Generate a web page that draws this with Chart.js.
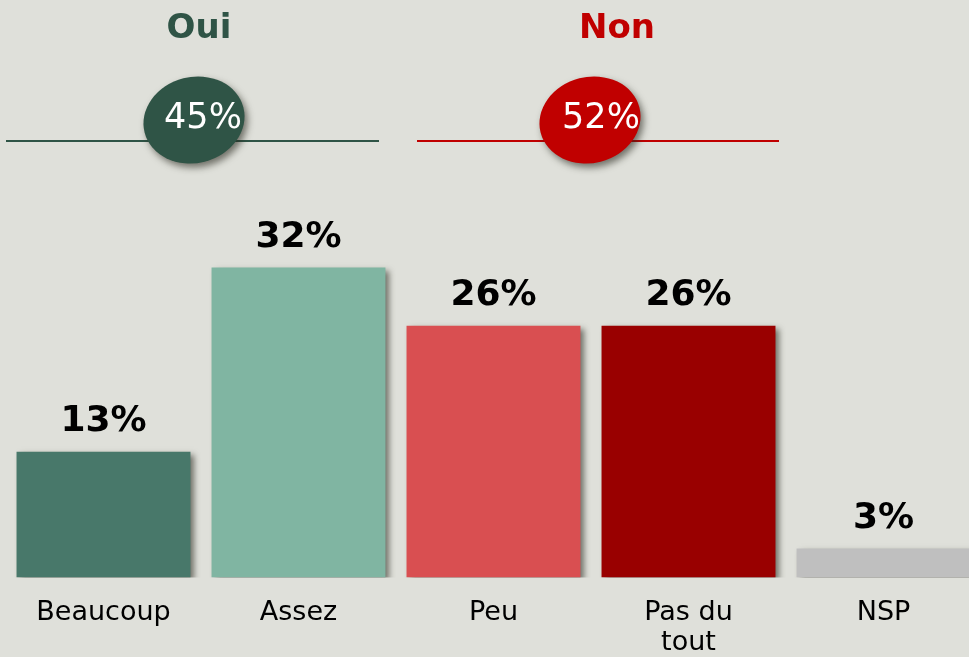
<!DOCTYPE html>
<html>
<head>
<meta charset="utf-8">
<script src="https://cdn.jsdelivr.net/npm/chart.js@4.4.1/dist/chart.umd.min.js"></script>
<style>
    html, body { margin: 0; padding: 0; background: #dfe0da; overflow: hidden; }
    .wrap { width: 981px; height: 657px; position: relative; }
</style>
</head>
<body>
<div class="wrap"><canvas class="chart_canvas"></canvas></div>
<script>
const categories = ["Beaucoup", "Assez", "Peu", ["Pas du", "tout"], "NSP"];
const values = [13, 32, 26, 26, 3];
const barColors = ["#48786a", "#80b5a2", "#d94f51", "#990000", "#bfbfbf"];

const groupLabels = ["Oui", "Non"];
const groupValues = [45, 52];
const groupColors = ["#2f5446", "#c00000"];

const chartCanvas = document.querySelector(".chart_canvas");

// ombre portée sous les barres
const barShadow = {
    id: "barShadow",
    beforeDatasetDraw(chart) {
        const ctx = chart.ctx;
        ctx.save();
        ctx.shadowColor = "rgba(50,50,40,0.65)";
        ctx.shadowBlur = 6;
        ctx.shadowOffsetX = 4;
        ctx.shadowOffsetY = 3;
    },
    afterDatasetDraw(chart) {
        chart.ctx.restore();
    }
};

// valeurs au-dessus des barres
const barValues = {
    id: "barValues",
    afterDatasetsDraw(chart) {
        const ctx = chart.ctx;
        const meta = chart.getDatasetMeta(0);
        ctx.save();
        ctx.font = "bold 36px 'DejaVu Sans'";
        ctx.fillStyle = "#000";
        ctx.textAlign = "center";
        ctx.textBaseline = "alphabetic";
        meta.data.forEach((bar, i) => {
            ctx.fillText(values[i] + "%", bar.x, bar.y - 21);
        });
        ctx.restore();
    }
};

// en-têtes Oui / Non avec ligne et pastille
const groupHeader = {
    id: "groupHeader",
    afterDraw(chart) {
        const ctx = chart.ctx;
        const x = chart.scales.x;
        const step = x.getPixelForValue(1) - x.getPixelForValue(0);
        const spans = [[0, 1], [2, 3]];
        const titleShift = [-2, 26];
        const ovalShift = [-7, -1];
        const textShift = [2, 10];
        const lineInset = [[0, -17], [21, -7]];
        spans.forEach((s, g) => {
            const a = x.getPixelForValue(s[0]);
            const b = x.getPixelForValue(s[1]);
            const mid = (a + b) / 2;
            const left = a - step / 2;
            const right = b + step / 2;

            ctx.save();
            ctx.fillStyle = groupColors[g];
            ctx.font = "bold 34px 'DejaVu Sans'";
            ctx.textAlign = "center";
            ctx.textBaseline = "middle";
            ctx.fillText(groupLabels[g], mid + titleShift[g], 29);

            ctx.strokeStyle = groupColors[g];
            ctx.lineWidth = 2;
            ctx.beginPath();
            ctx.moveTo(left + lineInset[g][0], 141);
            ctx.lineTo(right + lineInset[g][1], 141);
            ctx.stroke();

            ctx.shadowColor = "rgba(40,40,30,0.6)";
            ctx.shadowBlur = 7;
            ctx.shadowOffsetX = 3;
            ctx.shadowOffsetY = 4;
            ctx.beginPath();
            ctx.ellipse(mid + ovalShift[g], 120, 51, 43, -0.25, 0, Math.PI * 2);
            ctx.fill();
            ctx.shadowColor = "transparent";

            ctx.fillStyle = "#ffffff";
            ctx.font = "35px 'DejaVu Sans'";
            ctx.fillText(groupValues[g] + "%", mid + textShift[g], 119);
            ctx.restore();
        });
    }
};

const chart = new Chart(chartCanvas, {
    type: "bar",
    data: {
        labels: categories,
        datasets: [{
            data: values,
            backgroundColor: barColors,
            borderWidth: 0,
            categoryPercentage: 1,
            barPercentage: 0.892
        }]
    },
    options: {
        responsive: true,
        maintainAspectRatio: false,
        animation: false,
        layout: { padding: { left: 6, right: 0, top: 190, bottom: -22 } },
        plugins: {
            legend: { display: false },
            tooltip: { enabled: false }
        },
        scales: {
            y: {
                display: false,
                min: 0,
                max: 40
            },
            x: {
                grid: { display: false, drawTicks: false },
                border: { display: false },
                ticks: {
                    color: "#000",
                    padding: 21,
                    maxRotation: 0,
                    autoSkip: false,
                    font: { family: "'DejaVu Sans'", size: 27, lineHeight: 1.1 }
                }
            }
        }
    },
    plugins: [barShadow, barValues, groupHeader]
});
</script>
</body>
</html>
